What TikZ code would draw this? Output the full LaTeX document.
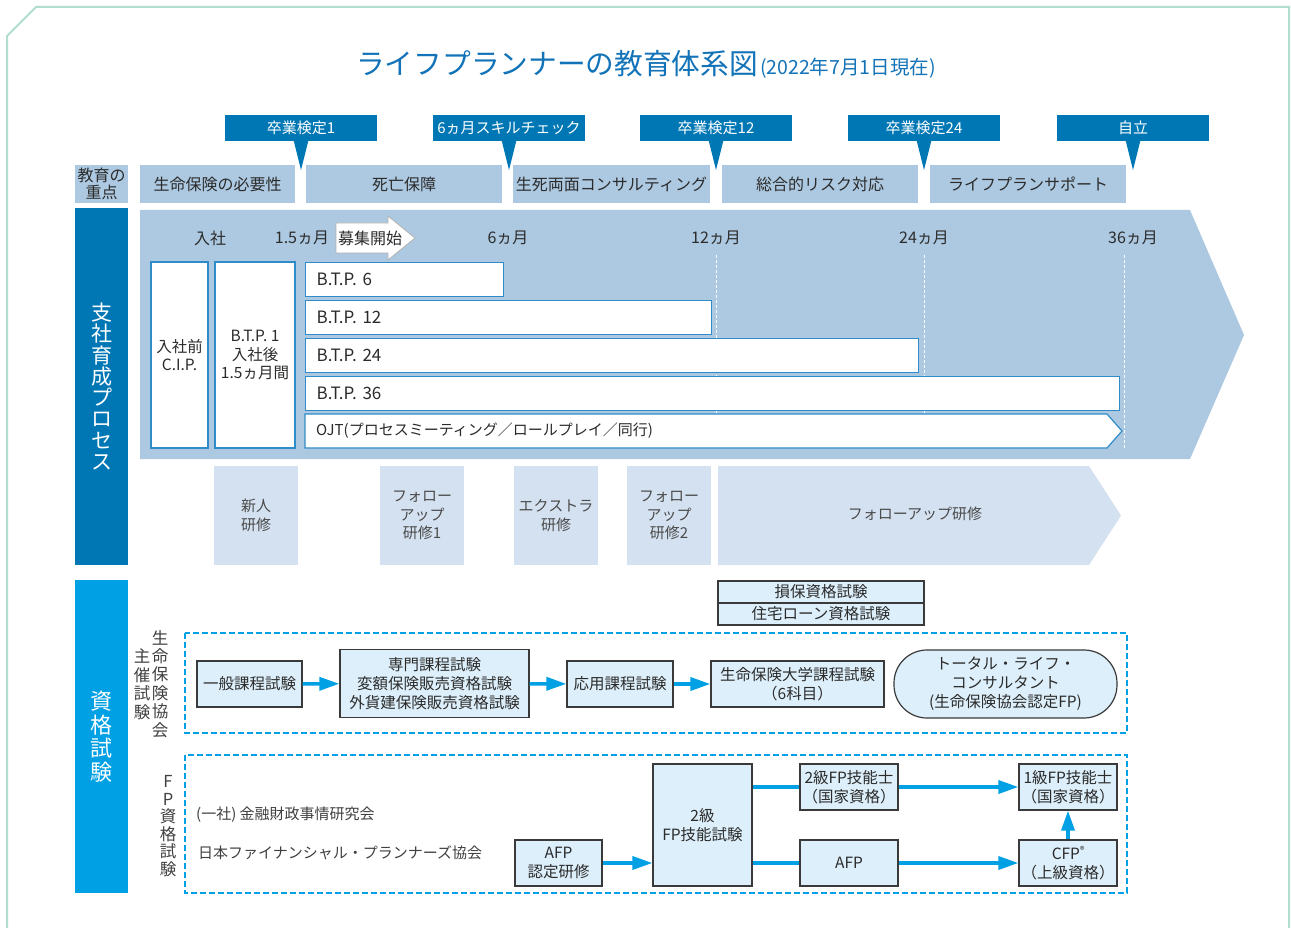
\documentclass[tikz,border=0pt]{standalone}
\usepackage{fontspec}
\setmainfont{Noto Sans CJK JP}
\usetikzlibrary{arrows.meta}
\definecolor{dblue}{HTML}{0077B5}
\definecolor{bblue}{HTML}{00A0E4}
\definecolor{lblue}{HTML}{ADC9E1}
\definecolor{pblue}{HTML}{D3E1F0}
\definecolor{qfill}{HTML}{DDEFFA}
\definecolor{qline}{HTML}{3A3A3A}
\definecolor{wline}{HTML}{2F8CC8}
\definecolor{framec}{HTML}{B3DDD0}
\definecolor{txtc}{HTML}{2B2B2B}
\definecolor{titlec}{HTML}{1273B8}
\newcommand\myfs[2]{\fontsize{#1pt}{#2pt}\selectfont}
\begin{document}
\begin{tikzpicture}[x=1pt,y=-1pt,
  tx/.style={text=txtc, align=center, inner sep=0pt, font=\myfs{16}{19}},
  focus/.style={tx, fill=lblue, minimum height=38},
  ms/.style={fill=dblue, text=white, minimum width=152, minimum height=26, inner sep=0pt, font=\myfs{15}{18}},
  wbox/.style={tx, draw=wline, fill=white, line width=1.2pt},
  btp/.style={wbox, anchor=north west, minimum height=34, inner xsep=11pt, align=left, font=\myfs{17}{19}},
  train/.style={tx, fill=pblue, text=txtc!85, font=\myfs{15}{18.5}},
  qbox/.style={tx, draw=qline, fill=qfill, line width=1.2pt, font=\myfs{15.5}{19}},
  dregion/.style={bblue, line width=1.5pt, dash pattern=on 6pt off 3pt},
  conn/.style={bblue, line width=3.5pt},
  arr/.style={conn, -{Triangle[length=20pt,width=13pt]}},
  vtx/.style={tx, text=txtc!90, font=\myfs{16.5}{18.5}},
]
\useasboundingbox (0,0) rectangle (1291,928);
\fill[white] (0,0) rectangle (1291,928);
% frame
\draw[framec, line width=2pt] (7,928) -- (7,36) -- (36,7) -- (1289,7) -- (1289,928);
% title
\node[anchor=base west, inner sep=0pt, text=titlec] (title) at (356,75)
  {{\myfs{28.7}{30}ライフプランナーの教育体系図}\hspace{2pt}{\myfs{19.5}{20}(2022年7月1日現在)}};
% milestones
\foreach \x/\t/\n in {301/卒業検定1/m1, 509/6ヵ月スキルチェック/m2, 716/卒業検定12/m3, 924/卒業検定24/m4, 1133/自立/m5}{
  \node[ms] (\n) at (\x,128) {\t};
  \fill[dblue] (\x-7.5,140) -- (\x+7.5,140) -- (\x,170) -- cycle;
}
% focus row
\node[focus, minimum width=53, font=\myfs{16}{17.5}] (f0) at (101.5,184) {教育の\\重点};
\node[focus, minimum width=155] (f1) at (217.5,184) {生命保険の必要性};
\node[focus, minimum width=196] (f2) at (404,184) {死亡保障};
\node[focus, minimum width=197] (f3) at (611.5,184) {生死両面コンサルティング};
\node[focus, minimum width=196] (f4) at (820,184) {総合的リスク対応};
\node[focus, minimum width=196] (f5) at (1028,184) {ライフプランサポート};
% left headers
\node[fill=dblue, minimum width=53, minimum height=356, inner sep=0pt, text=white, align=center, font=\myfs{21}{21.3}] (h1) at (101.5,386.5) {支\\社\\育\\成\\プ\\ロ\\セ\\ス};
\node[fill=bblue, minimum width=53, minimum height=313, inner sep=0pt, text=white, align=center, font=\myfs{22}{23.7}] (h2) at (101.5,736.5) {資\\格\\試\\験};
% process arrow
\fill[lblue] (140,210) -- (1190,210) -- (1244,335) -- (1190,459) -- (140,459) -- cycle;
\foreach \x in {716,924,1124}{
  \draw[white, line width=1pt, dash pattern=on 3pt off 2pt] (\x,255) -- (\x,448);
}
\node[tx] (t0) at (210,238) {入社};
\node[tx] (t1) at (302,238) {1.5ヵ月};
\draw[gray!60, fill=white, line width=0.8pt] (336,223) -- (388,223) -- (388,216) -- (415,238) -- (388,260) -- (388,253) -- (336,253) -- cycle;
\node[tx] (bosyu) at (370,238) {募集開始};
\node[tx] (t6) at (508,238) {6ヵ月};
\node[tx] (t12) at (716,238) {12ヵ月};
\node[tx] (t24) at (924,238) {24ヵ月};
\node[tx] (t36) at (1133,238) {36ヵ月};
\node[wbox, minimum width=57, minimum height=186, font=\myfs{15.5}{18.5}] (cip) at (179.5,355) {入社前\\C.I.P.};
\node[wbox, minimum width=80, minimum height=186, font=\myfs{15.5}{18.5}] (btp1) at (255,355) {B.T.P. 1\\入社後\\1.5ヵ月間};
\node[btp, minimum width=198, text width=176] (b6) at (305,262) {B.T.P. 6};
\node[btp, minimum width=406, text width=384] (b12) at (305,300) {B.T.P. 12};
\node[btp, minimum width=613, text width=591] (b24) at (305,338) {B.T.P. 24};
\node[btp, minimum width=814, text width=792] (b36) at (305,376) {B.T.P. 36};
\draw[wline, fill=white, line width=1.2pt] (305,414) -- (1107,414) -- (1122,431) -- (1107,448) -- (305,448) -- cycle;
\node[tx, anchor=west, font=\myfs{15}{18}] (ojt) at (316,431) {OJT(プロセスミーティング／ロールプレイ／同行)};
% trainings
\node[train, minimum width=84, minimum height=99] (tr1) at (256,515.5) {新人\\研修};
\node[train, minimum width=84, minimum height=99] (tr2) at (422,515.5) {フォロー\\アップ\\研修1};
\node[train, minimum width=84, minimum height=99] (tr3) at (556,515.5) {エクストラ\\研修};
\node[train, minimum width=84, minimum height=99] (tr4) at (669,515.5) {フォロー\\アップ\\研修2};
\fill[pblue] (718,466) -- (1089,466) -- (1121,515.5) -- (1089,565) -- (718,565) -- cycle;
\node[tx, text=txtc!85, font=\myfs{15}{18}] (tr5) at (915,514) {フォローアップ研修};
% qualification labels
\node[vtx] (v1) at (160,684) {生\\命\\保\\険\\協\\会};
\node[vtx] (v2) at (142,684.5) {主\\催\\試\\験};
\node[vtx, font=\myfs{16.5}{17.5}] (v3) at (168,826) {F\\P\\資\\格\\試\\験};
\draw[dregion] (185,633) rectangle (1127,733);
\draw[dregion] (185,755) rectangle (1127,893);
% life insurance association exams
\node[qbox, minimum width=206, minimum height=22] (sonpo) at (821,592) {損保資格試験};
\node[qbox, minimum width=206, minimum height=22] (jutaku) at (821,614) {住宅ローン資格試験};
\node[qbox, minimum width=105, minimum height=46] (ippan) at (249.5,684) {一般課程試験};
\node[qbox, minimum width=189, minimum height=68] (senmon) at (434.5,683.5) {専門課程試験\\変額保険販売資格試験\\外貨建保険販売資格試験};
\node[qbox, minimum width=106, minimum height=46] (ouyou) at (620,684) {応用課程試験};
\node[qbox, minimum width=173, minimum height=46] (daigaku) at (797.5,684) {生命保険大学課程試験\\（6科目）};
\node[qbox, minimum width=223, minimum height=68, rounded corners=33pt] (tlc) at (1005.5,684) {トータル・ライフ・\\コンサルタント\\(生命保険協会認定FP)};
\draw[arr] (ippan) -- (senmon);
\draw[arr] (senmon) -- (ouyou);
\draw[arr] (ouyou) -- (daigaku);
% FP exams
\node[tx, anchor=west, text=txtc!90, font=\myfs{15}{18}] (kinzai) at (196,815) {(一社) 金融財政事情研究会};
\node[tx, anchor=west, text=txtc!90, font=\myfs{15}{18}] (jafp) at (198,853) {日本ファイナンシャル・プランナーズ協会};
\node[qbox, minimum width=87, minimum height=46] (afpk) at (558.5,863) {AFP\\認定研修};
\node[qbox, minimum width=99, minimum height=122] (ftest) at (702.5,825) {2級\\FP技能試験};
\node[qbox, minimum width=98, minimum height=46] (fp2) at (849,787) {2級FP技能士\\（国家資格）};
\node[qbox, minimum width=98, minimum height=46] (afp) at (849,863) {AFP};
\node[qbox, minimum width=98, minimum height=46] (fp1) at (1068,787) {1級FP技能士\\（国家資格）};
\node[qbox, minimum width=98, minimum height=46] (cfp) at (1068,863) {CFP\raisebox{6pt}{\myfs{9}{9}®}\\（上級資格）};
\draw[arr] (afpk.east) -- (afpk.east -| ftest.west);
\draw[conn] (ftest.east |- fp2.west) -- (fp2.west);
\draw[conn] (ftest.east |- afp.west) -- (afp.west);
\draw[arr] (fp2) -- (fp1);
\draw[arr] (afp) -- (cfp);
\draw[arr] (cfp) -- (fp1);
\end{tikzpicture}
\end{document}
